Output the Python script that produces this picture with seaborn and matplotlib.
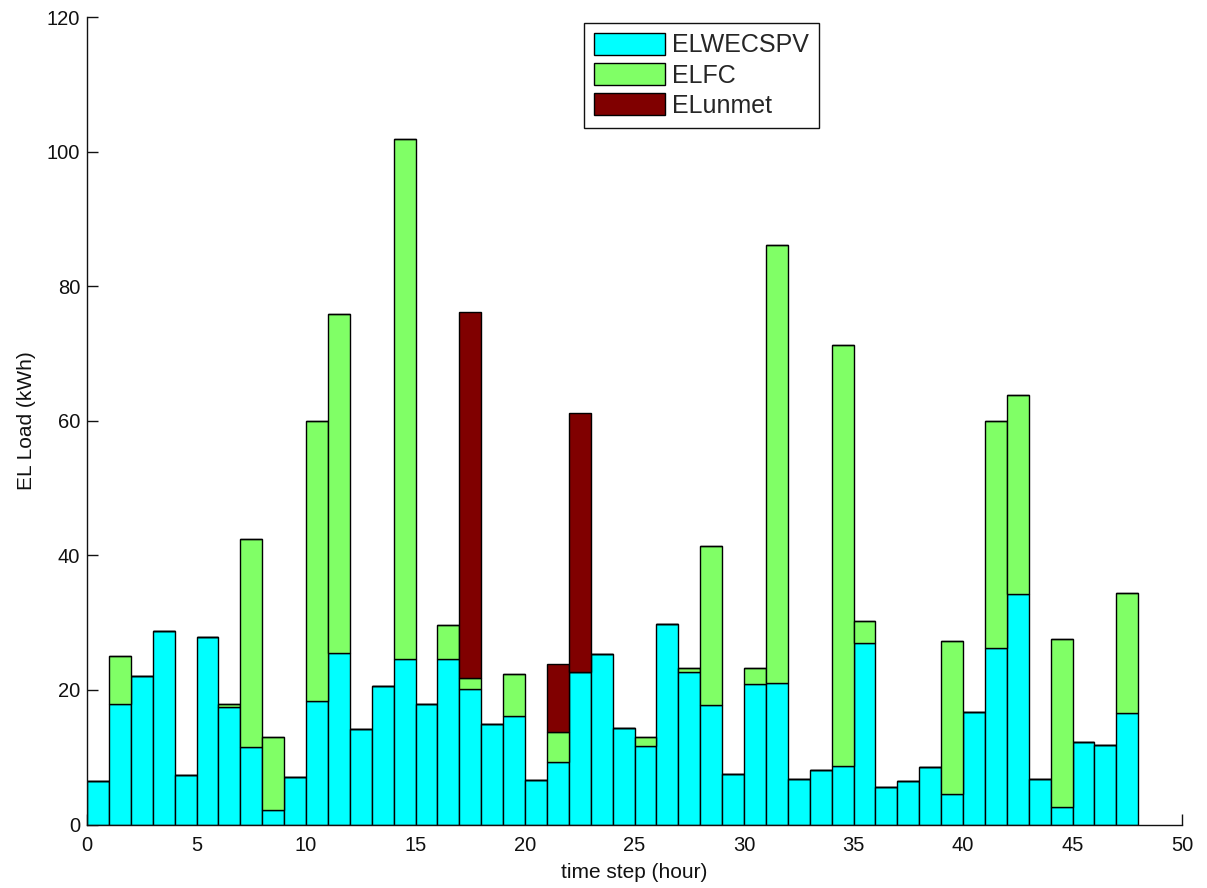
import numpy as np
import pandas as pd
import matplotlib
matplotlib.use("Agg")
import matplotlib.pyplot as plt
from matplotlib.patches import Patch
import seaborn as sns

# Hourly electrical load split by supply source (kWh), hours 1..48
hours = np.arange(1, 49)

el_wecspv = [6.4, 17.9, 22.1, 28.7, 7.3, 27.8, 17.4, 11.5, 2.1, 7.0,
             18.4, 25.5, 14.2, 20.6, 24.6, 17.9, 24.6, 20.1, 15.0, 16.2,
             6.6, 9.3, 22.6, 25.3, 14.4, 11.7, 29.8, 22.6, 17.7, 7.5,
             20.9, 21.1, 6.8, 8.05, 8.7, 27.0, 5.6, 6.4, 8.5, 4.6,
             16.7, 26.3, 34.2, 6.8, 2.6, 12.2, 11.8, 16.6]

el_fc = [0.0, 7.1, 0.0, 0.0, 0.0, 0.0, 0.5, 30.9, 10.9, 0.0,
         41.5, 50.4, 0.0, 0.0, 77.3, 0.0, 5.1, 1.7, 0.0, 6.1,
         0.0, 4.5, 0.0, 0.0, 0.0, 1.3, 0.0, 0.6, 23.7, 0.0,
         2.4, 65.0, 0.0, 0.0, 62.6, 3.2, 0.0, 0.0, 0.0, 22.7,
         0.0, 33.6, 29.6, 0.0, 24.9, 0.0, 0.0, 17.8]

el_unmet = [0.0] * 17 + [54.4] + [0.0] * 3 + [10.0, 38.5] + [0.0] * 25

series_names = ["ELWECSPV", "ELFC", "ELunmet"]
series_colors = ["#00FFFF", "#80FF66", "#800000"]

x_ticks = np.arange(0, 51, 5)
y_ticks = np.arange(0, 121, 20)

sns.set_theme(style="white")
plt.rcParams["font.family"] = ["Liberation Sans", "DejaVu Sans"]

# Long-format table: each hour's bar spans [hour-1, hour]
df = pd.DataFrame({
    "hour": np.tile(hours - 0.5, 3),
    "load": np.concatenate([el_wecspv, el_fc, el_unmet]),
    "series": np.repeat(series_names, len(hours)),
})

fig = plt.figure(figsize=(12.07, 8.88), dpi=100)
ax = fig.add_axes([0.0721, 0.0715, 0.9072, 0.9093])

palette = dict(zip(series_names, series_colors))
sns.histplot(
    data=df, x="hour", weights="load", hue="series",
    hue_order=series_names[::-1], palette=palette,
    multiple="stack", bins=len(hours), binrange=(0, len(hours)), shrink=1,
    element="bars", fill=True, alpha=1,
    edgecolor="black", linewidth=1.0, legend=False, ax=ax,
)

ax.set_xlim(0, 50)
ax.set_ylim(0, 120)
ax.set_xticks(x_ticks)
ax.set_yticks(y_ticks)
ax.set_xlabel("time step (hour)", fontsize=15, color="#111111", labelpad=6)
ax.set_ylabel("EL Load (kWh)", fontsize=15, color="#111111", labelpad=8)

for side in ("top", "right"):
    ax.spines[side].set_visible(False)
for side in ("left", "bottom"):
    ax.spines[side].set_color("#111111")
    ax.spines[side].set_linewidth(1.0)

ax.tick_params(axis="both", which="major", direction="in", length=8,
               width=1.0, color="#111111", labelsize=14.5, labelcolor="#111111",
               bottom=True, left=True)
ax.tick_params(axis="x", pad=8)
ax.tick_params(axis="y", pad=5)
ax.grid(False)

handles = [Patch(facecolor=c, edgecolor="black", linewidth=1.0) for c in series_colors]
leg = ax.legend(
    handles, series_names, loc="upper left", bbox_to_anchor=(0.4539, 0.9926),
    fontsize=18, frameon=True, fancybox=False, framealpha=1,
    edgecolor="#111111", handlelength=2.84, handleheight=0.96,
    labelspacing=0.23, handletextpad=0.28, borderpad=0.4, borderaxespad=0,
)
leg.get_frame().set_linewidth(1.0)

fig.savefig("out.png", dpi=100, facecolor="white")
